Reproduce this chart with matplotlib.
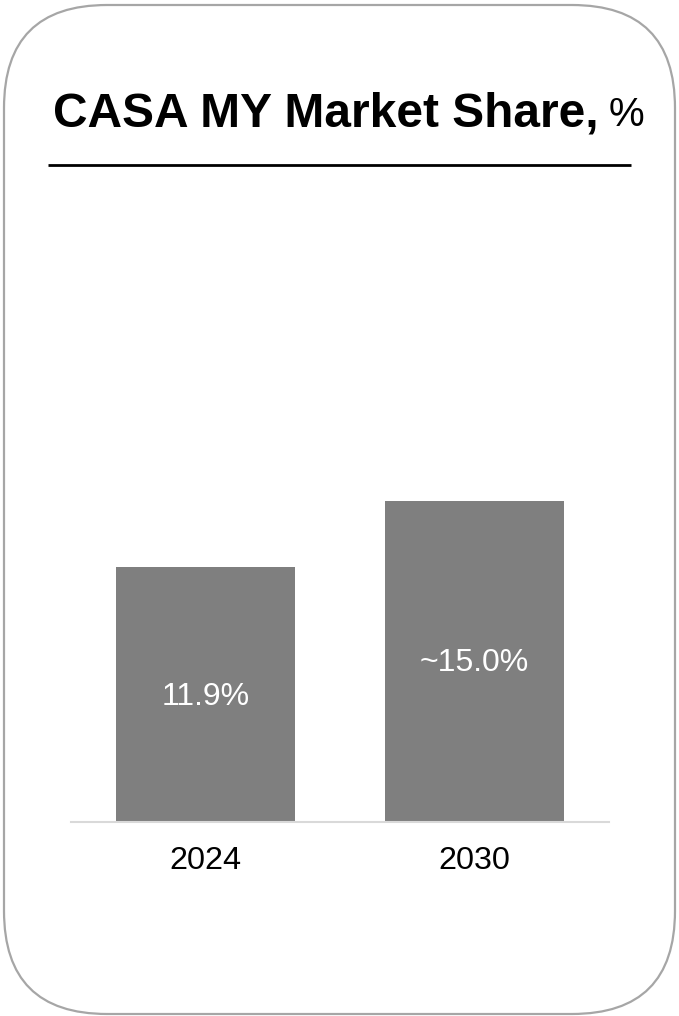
import matplotlib
matplotlib.use('Agg')
import matplotlib.pyplot as plt
from matplotlib.patches import FancyBboxPatch

years = ['2024', '2030']
share = [11.9, 15.0]
share_labels = ['11.9%', '~15.0%']

W, H = 679, 1016
plt.rcParams['font.family'] = ['Liberation Sans', 'DejaVu Sans']

fig = plt.figure(figsize=(W / 100, H / 100), dpi=100)

# overlay in pixel coordinates for the card frame, title and rule
bg = fig.add_axes([0, 0, 1, 1])
bg.set_xlim(0, W)
bg.set_ylim(H, 0)
bg.set_axis_off()

r = 103
card = FancyBboxPatch((4, 5), 671, 1009,
                      boxstyle='round,pad=0,rounding_size=%d' % r,
                      facecolor='white', edgecolor='#a6a6a6', linewidth=1.6)
bg.add_patch(card)

title = bg.text(53, 126, 'CASA MY Market Share,', fontsize=34.5,
                fontweight='bold', color='black', ha='left', va='baseline')
fig.canvas.draw()
ext = title.get_window_extent(renderer=fig.canvas.get_renderer())
bg.text(ext.x1 + 10, 126, '%', fontsize=29, color='black',
        ha='left', va='baseline')

bg.plot([48, 631], [165, 165], color='black', linewidth=2,
        solid_capstyle='butt')

# bar chart
ax = fig.add_axes([71 / W, 1 - 822 / H, 538 / W, 622 / H])
x = list(range(len(years)))
bars = ax.bar(x, share, width=0.665, color='#7f7f7f', zorder=2)
ax.set_xlim(-0.5, 1.5)
ax.set_ylim(0, 622 / (255 / 11.9))

for b, lab in zip(bars, share_labels):
    ax.text(b.get_x() + b.get_width() / 2, b.get_height() / 2 - 0.1, lab,
            ha='center', va='center', color='white', fontsize=23)

ax.set_xticks(x)
ax.set_xticklabels(years, fontsize=23.3, color='black')
ax.tick_params(axis='x', length=0, pad=17)
ax.set_yticks([])
for s in ['top', 'right', 'left']:
    ax.spines[s].set_visible(False)
ax.spines['bottom'].set_color('#d9d9d9')
ax.spines['bottom'].set_linewidth(1.5)
ax.patch.set_alpha(0)

fig.savefig('out.png', dpi=100)
